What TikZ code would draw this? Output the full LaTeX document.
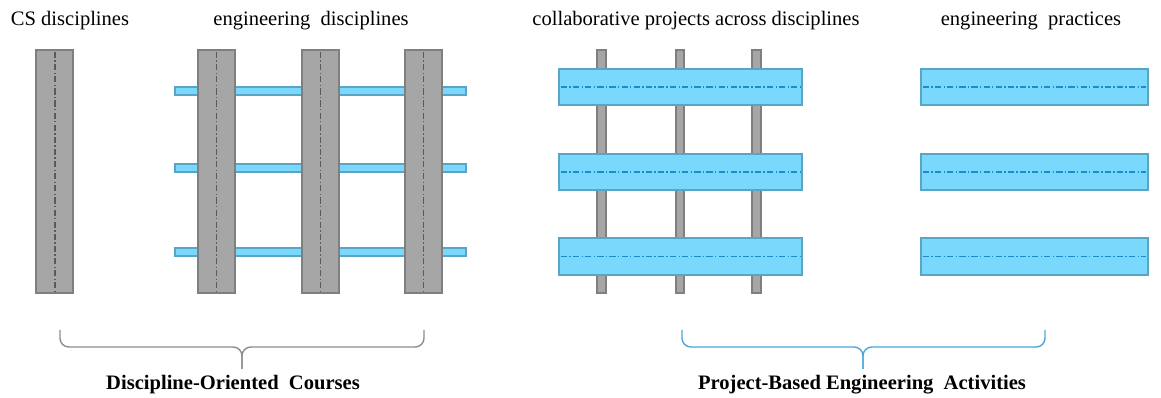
\documentclass[tikz,border=0pt]{standalone}
\usepackage{fontspec}
\setmainfont{Liberation Serif}
\definecolor{barGray}{HTML}{A6A6A6}
\definecolor{edgeGray}{HTML}{7F7F7F}
\definecolor{axisGray}{HTML}{5A5A5A}
\definecolor{barBlue}{HTML}{7AD8FD}
\definecolor{edgeBlue}{HTML}{5AA5C5}
\definecolor{axisBlue}{HTML}{1A8ECC}
\definecolor{braceGray}{HTML}{8C8C8C}
\definecolor{braceBlue}{HTML}{4AA8D6}
\tikzset{
	discbar/.style={fill=barGray,draw=edgeGray,line width=1.1pt},
	projbar/.style={fill=barBlue,draw=edgeBlue,line width=1pt},
	discaxis/.style={axisGray,line width=0.6pt,dash pattern=on 3.5pt off 1.3pt on 0.8pt off 1.3pt},
	projaxis/.style={axisBlue,line width=0.6pt,dash pattern=on 3.5pt off 1.3pt on 0.8pt off 1.3pt},
	caption/.style={font=\fontsize{11.7}{14}\selectfont,inner sep=0pt},
	groupcaption/.style={font=\fontsize{11.7}{14}\selectfont\bfseries,inner sep=0pt},
	bracepath/.style={line width=0.8pt,rounded corners=5}
}
\begin{document}
\begin{tikzpicture}[x=0.02cm,y=-0.02cm]
	\useasboundingbox (0,0) rectangle (1161,398);
	
	% CS discipline
	\draw[discbar] (36,50) rectangle (73,293);
	\draw[discaxis] (55,52) -- (55,291);
	
	% thin projects under the engineering disciplines
	\draw[projbar] (175,87) rectangle (466,95);
	\draw[projbar] (175,164) rectangle (466,172);
	\draw[projbar] (175,248) rectangle (466,256);
	
	\draw[discbar] (198,50) rectangle (235,293);
	\draw[discbar] (302,50) rectangle (339,293);
	\draw[discbar] (405,50) rectangle (442,293);
	\draw[discaxis] (216.5,52) -- (216.5,291);
	\draw[discaxis] (320.5,52) -- (320.5,291);
	\draw[discaxis] (423.5,52) -- (423.5,291);
	
	% thin disciplines under the collaborative projects
	\draw[discbar] (597,50) rectangle (606,293);
	\draw[discbar] (676,50) rectangle (684,293);
	\draw[discbar] (752,50) rectangle (761,293);
	
	\draw[projbar] (559,69) rectangle (802,105);
	\draw[projbar] (559,154) rectangle (802,190);
	\draw[projbar] (559,238) rectangle (802,275);
	\draw[projaxis] (561,87) -- (800,87);
	\draw[projaxis] (561,172) -- (800,172);
	\draw[projaxis] (561,256.5) -- (800,256.5);
	
	% engineering practices
	\draw[projbar] (921,69) rectangle (1148,105);
	\draw[projbar] (921,154) rectangle (1148,190);
	\draw[projbar] (921,238) rectangle (1148,275);
	\draw[projaxis] (923,87) -- (1146,87);
	\draw[projaxis] (923,172) -- (1146,172);
	\draw[projaxis] (923,256.5) -- (1146,256.5);
	
	% headings
	\node[caption] (cs) at (70,21) {CS disciplines};
	\node[caption] (eng) at (311,21) {engineering\ \ disciplines};
	\node[caption] (collab) at (696,21) {collaborative projects across disciplines};
	\node[caption] (pract) at (1031,21) {engineering\ \ practices};
	
	% braces
	\draw[bracepath,braceGray] (60,330) -- (60,347) -- (242,347) -- (242,369);
	\draw[bracepath,braceGray] (424,330) -- (424,347) -- (242,347) -- (242,369);
	\draw[bracepath,braceBlue] (682,330) -- (682,347) -- (863,347) -- (863,369);
	\draw[bracepath,braceBlue] (1045,330) -- (1045,347) -- (863,347) -- (863,369);
	
	\node[groupcaption] (courses) at (233,385) {Discipline-Oriented\ \ Courses};
	\node[groupcaption] (activities) at (862,385) {Project-Based Engineering\ \ Activities};
\end{tikzpicture}
\end{document}
